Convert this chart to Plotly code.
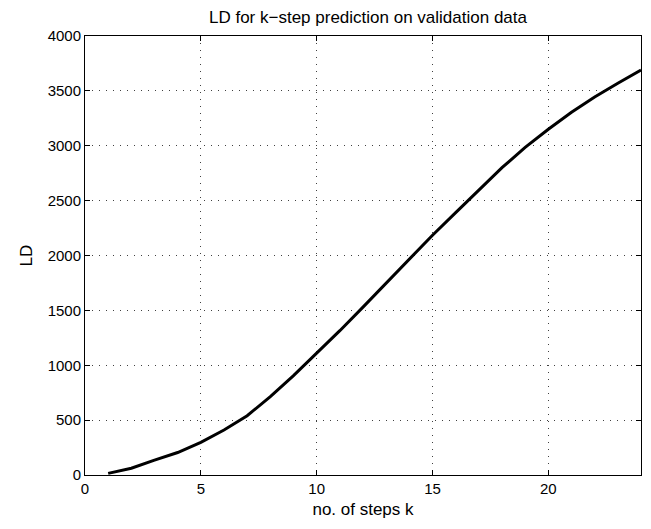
import plotly.graph_objects as go

steps_k = list(range(1, 25))
ld_values = [15, 62, 135, 205, 298, 410, 540, 715, 905, 1110, 1315, 1530, 1750, 1970, 2185, 2390, 2595, 2800, 2985, 3150, 3305, 3445, 3570, 3690]
x_ticks = [0, 5, 10, 15, 20]
y_ticks = list(range(0, 4001, 500))

fig = go.Figure()
fig.add_trace(go.Scatter(x=steps_k, y=ld_values, mode="lines",
                         line=dict(color="black", width=3), showlegend=False))

fam = "Liberation Sans, Arial, Helvetica, sans-serif"
tickfont = dict(family=fam, size=15, color="black")
titlefont = dict(family=fam, size=17, color="black")
axis_common = dict(showline=True, linecolor="black", linewidth=1, mirror="ticks",
                   ticks="inside", ticklen=5, tickcolor="black", automargin=False,
                   showgrid=True, gridcolor="rgba(0,0,0,0.75)", griddash="1px,6px", gridwidth=1,
                   zeroline=False, tickfont=tickfont)
# page body has an 8px default margin; figure is sized so it fits the 651x529 window
W, H = 635, 513
fig.update_layout(
    template="none",
    width=W, height=H,
    margin=dict(l=77, r=2, t=28, b=46, autoexpand=False),
    paper_bgcolor="white", plot_bgcolor="white",
    font=dict(family=fam, size=15, color="black"),
    title=dict(text="LD for k\u2212step prediction on validation data", x=360/W, xanchor="center",
               xref="container", y=1 - 9/H, yanchor="middle", yref="container", font=titlefont),
    xaxis=dict(range=[0, 24], tickvals=x_ticks,
               title=dict(text="no. of steps k", standoff=7, font=titlefont), **axis_common),
    yaxis=dict(range=[0, 4000], tickvals=y_ticks,
               title=dict(text="LD", standoff=10, font=titlefont), **axis_common),
)
fig.write_html("out.html")
